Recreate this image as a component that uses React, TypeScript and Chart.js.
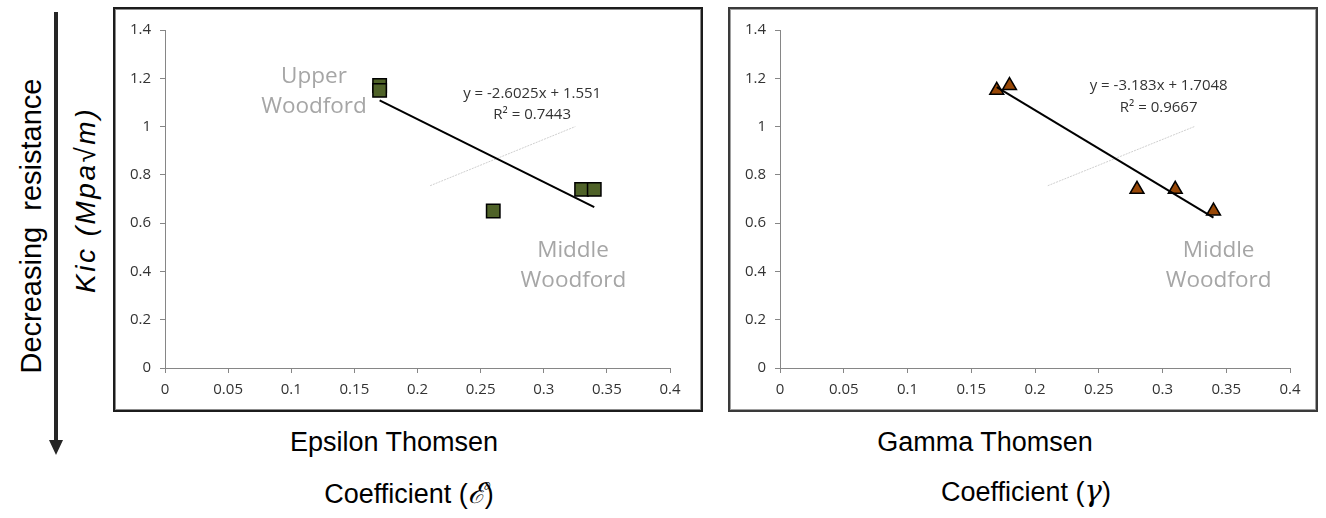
import React, { useEffect, useRef } from "react";
import { Chart, registerables } from "chart.js";

Chart.register(...registerables);

// ---------- data ----------
const xTickLabels = ["0", "0.05", "0.1", "0.15", "0.2", "0.25", "0.3", "0.35", "0.4"];
const yTickLabels = ["0", "0.2", "0.4", "0.6", "0.8", "1", "1.2", "1.4"];

const epsilonValues = [0.17, 0.17, 0.26, 0.33, 0.34];
const epsilonKic = [1.17, 1.15, 0.65, 0.74, 0.74];

const gammaValues = [0.17, 0.18, 0.28, 0.31, 0.34];
const gammaKic = [1.15, 1.17, 0.74, 0.74, 0.65];

// trendlines as printed on the chart (y = slope * x + intercept)
const epsilonTrend = { slope: -2.6025, intercept: 1.551, from: 0.17, to: 0.34 };
const gammaTrend = { slope: -3.183, intercept: 1.7048, from: 0.17, to: 0.34 };

// faint guide line present in both panels
const guideX = [0.21, 0.325];
const guideY = [0.755, 1.0];

const epsilonEquation = ["y = -2.6025x + 1.551", "R\u00B2 = 0.7443"];
const gammaEquation = ["y = -3.183x + 1.7048", "R\u00B2 = 0.9667"];

type Note = { text: string; x: number; y: number; font: string; color: string };

const EQ_FONT = '15px "Open Sans", sans-serif';
const ZONE_FONT = '22.5px "Open Sans", sans-serif';
const ZONE_COLOR = "#a6a6a6";
const EQ_COLOR = "#333333";

const epsilonNotes: Note[] = [
  { text: "Upper", x: 0.118, y: 1.205, font: ZONE_FONT, color: ZONE_COLOR },
  { text: "Woodford", x: 0.118, y: 1.083, font: ZONE_FONT, color: ZONE_COLOR },
  { text: "Middle", x: 0.3232, y: 0.488, font: ZONE_FONT, color: ZONE_COLOR },
  { text: "Woodford", x: 0.3235, y: 0.364, font: ZONE_FONT, color: ZONE_COLOR },
  { text: epsilonEquation[0], x: 0.2908, y: 1.135, font: EQ_FONT, color: EQ_COLOR },
  { text: epsilonEquation[1], x: 0.2908, y: 1.05, font: EQ_FONT, color: EQ_COLOR },
];

const gammaNotes: Note[] = [
  { text: "Middle", x: 0.344, y: 0.486, font: ZONE_FONT, color: ZONE_COLOR },
  { text: "Woodford", x: 0.344, y: 0.361, font: ZONE_FONT, color: ZONE_COLOR },
  { text: gammaEquation[0], x: 0.297, y: 1.168, font: EQ_FONT, color: EQ_COLOR },
  { text: gammaEquation[1], x: 0.297, y: 1.079, font: EQ_FONT, color: EQ_COLOR },
];

type PanelProps = {
  left: number;
  top: number;
  width: number;
  height: number;
  padRight: number;
  xs: number[];
  ys: number[];
  trend: { slope: number; intercept: number; from: number; to: number };
  pointStyle: "rect" | "triangle";
  pointRadius: number;
  pointColor: string;
  notes: Note[];
  border: string;
  shadow: string;
};

function Panel(p: PanelProps) {
  const ref = useRef<HTMLCanvasElement | null>(null);
  useEffect(() => {
    if (!ref.current) return;
    const points = p.xs.map((x, i) => ({ x, y: p.ys[i] }));
    const trendPts = [p.trend.from, p.trend.to].map((x) => ({
      x,
      y: p.trend.slope * x + p.trend.intercept,
    }));
    const guidePts = guideX.map((x, i) => ({ x, y: guideY[i] }));
    const notes = p.notes;
    const chart = new Chart(ref.current, {
      type: "scatter",
      data: {
        datasets: [
          {
            data: trendPts,
            showLine: true,
            borderColor: "#000000",
            borderWidth: 2,
            pointRadius: 0,
          },
          {
            data: points,
            showLine: false,
            pointStyle: p.pointStyle,
            pointRadius: p.pointRadius,
            pointHoverRadius: p.pointRadius,
            backgroundColor: p.pointColor,
            borderColor: "#000000",
            borderWidth: 1.5,
          },
          {
            data: guidePts,
            showLine: true,
            borderColor: "#cfcfcf",
            borderWidth: 1,
            borderDash: [2, 1],
            pointRadius: 0,
          },
        ],
      },
      options: {
        responsive: false,
        animation: false,
        events: [],
        layout: { padding: { top: 23, right: p.padRight, left: 0, bottom: 0 } },
        plugins: { legend: { display: false }, tooltip: { enabled: false } },
        scales: {
          x: {
            type: "linear",
            min: 0,
            max: 0.4,
            afterFit: (s: any) => {
              s.height = 44;
            },
            ticks: {
              stepSize: 0.05,
              color: "#333333",
              padding: 8,
              font: { family: '"Open Sans", sans-serif', size: 15 },
              maxRotation: 0,
              autoSkip: false,
              callback: (_v: any, i: number) => xTickLabels[i],
            },
            grid: { drawOnChartArea: false, drawTicks: true, tickLength: 5, color: "#868686" },
            border: { display: true, color: "#868686", width: 1 },
          },
          y: {
            type: "linear",
            min: 0,
            max: 1.4,
            afterFit: (s: any) => {
              s.width = 52;
            },
            ticks: {
              stepSize: 0.2,
              color: "#333333",
              padding: 9,
              font: { family: '"Open Sans", sans-serif', size: 15 },
              autoSkip: false,
              callback: (_v: any, i: number) => yTickLabels[i],
            },
            grid: { drawOnChartArea: false, drawTicks: true, tickLength: 5, color: "#868686" },
            border: { display: true, color: "#868686", width: 1 },
          },
        },
      },
      plugins: [
        {
          id: "panelNotes",
          afterDatasetsDraw(c: any) {
            const ctx = c.ctx;
            const xs = c.scales.x;
            const ys = c.scales.y;
            for (const n of notes) {
              ctx.save();
              ctx.font = n.font;
              ctx.fillStyle = n.color;
              ctx.textAlign = "center";
              ctx.textBaseline = "middle";
              ctx.fillText(n.text, xs.getPixelForValue(n.x), ys.getPixelForValue(n.y));
              ctx.restore();
            }
          },
        },
      ],
    } as any);
    return () => chart.destroy();
  }, []);
  return (
    <>
      <div
        style={{
          position: "absolute",
          left: p.left,
          top: p.top,
          width: p.width,
          height: p.height,
          boxSizing: "border-box",
          border: p.border,
          boxShadow: p.shadow,
          background: "#ffffff",
        }}
      />
      <canvas
        ref={ref}
        width={p.width}
        height={p.height}
        style={{ position: "absolute", left: p.left, top: p.top, width: p.width, height: p.height }}
      />
    </>
  );
}

const titleStyle: React.CSSProperties = {
  position: "absolute",
  transform: "translate(-50%, -50%)",
  whiteSpace: "nowrap",
  fontFamily: '"Liberation Sans", Arial, sans-serif',
  fontSize: 27,
  color: "#000000",
};

export default function App() {
  return (
    <div
      style={{
        position: "fixed",
        left: 0,
        top: 0,
        width: 1326,
        height: 518,
        background: "#ffffff",
        overflow: "hidden",
        fontFamily: '"Liberation Sans", Arial, sans-serif',
      }}
    >
      {/* vertical labels */}
      <div
        style={{
          ...titleStyle,
          left: 31,
          top: 226,
          fontSize: 29,
          transform: "translate(-50%, -50%) rotate(-90deg)",
        }}
      >
        Decreasing&nbsp; resistance
      </div>
      <div
        style={{
          ...titleStyle,
          left: 86,
          top: 200,
          fontSize: 28,
          letterSpacing: 2.5,
          fontStyle: "italic",
          transform: "translate(-50%, -50%) rotate(-90deg)",
        }}
      >
        Kic (Mpa√m)
      </div>
      <svg
        width={80}
        height={518}
        style={{ position: "absolute", left: 0, top: 0 }}
      >
        <line x1={56} y1={12} x2={56} y2={442} stroke="#262626" strokeWidth={4} />
        <polygon points="49,440 63,440 56,455" fill="#262626" />
      </svg>

      <Panel
        left={113}
        top={7}
        width={590}
        height={405}
        padRight={33}
        xs={epsilonValues}
        ys={epsilonKic}
        trend={epsilonTrend}
        pointStyle="rect"
        pointRadius={9.5}
        pointColor="#4F6228"
        notes={epsilonNotes}
        border="2px solid #1c1c1c"
        shadow="inset 0 0 0 1px #8c8c8c"
      />
      <Panel
        left={728}
        top={7}
        width={590}
        height={405}
        padRight={28}
        xs={gammaValues}
        ys={gammaKic}
        trend={gammaTrend}
        pointStyle="triangle"
        pointRadius={8}
        pointColor="#984807"
        notes={gammaNotes}
        border="2px solid #3a3a3a"
        shadow="inset 0 0 0 1px #a0a0a0"
      />

      {/* x-axis titles */}
      <div style={{ ...titleStyle, left: 394, top: 442 }}>Epsilon Thomsen</div>
      <div style={{ ...titleStyle, left: 409, top: 491 }}>
        Coefficient (<span style={{ fontStyle: "italic", fontFamily: '"DejaVu Serif", serif', fontSize: 29 }}>ℰ</span>)
      </div>
      <div style={{ ...titleStyle, left: 985, top: 442 }}>Gamma Thomsen</div>
      <div style={{ ...titleStyle, left: 1026, top: 491 }}>
        Coefficient (<span style={{ fontStyle: "italic", fontFamily: '"DejaVu Serif", serif', fontSize: 29 }}>γ</span>)
      </div>
    </div>
  );
}
